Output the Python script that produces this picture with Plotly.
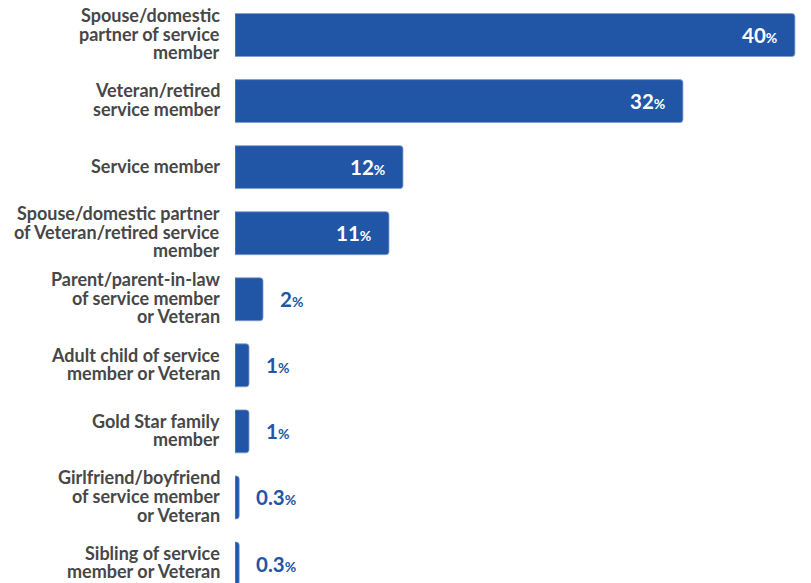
import plotly.graph_objects as go

# Respondent relationship to the military, share of respondents (%)
categories = [
    "Spouse/domestic<br>partner of service<br>member",
    "Veteran/retired<br>service member",
    "Service member",
    "Spouse/domestic partner<br>of Veteran/retired service<br>member",
    "Parent/parent-in-law<br>of service member<br>or Veteran",
    "Adult child of service<br>member or Veteran",
    "Gold Star family<br>member",
    "Girlfriend/boyfriend<br>of service member<br>or Veteran",
    "Sibling of service<br>member or Veteran",
]
values = [40, 32, 12, 11, 2, 1, 1, 0.3, 0.3]
value_labels = ["40", "32", "12", "11", "2", "1", "1", "0.3", "0.3"]

BAR_BLUE = "#2155a5"
LABEL_GREY = "#474747"
FONT = "Lato"
INSIDE_MIN = 10  # bars at least this long carry their label inside

fig = go.Figure(
    go.Bar(
        y=categories,
        x=values,
        orientation="h",
        marker=dict(color=BAR_BLUE, cornerradius=3,
                    line=dict(color="#7f9dd1", width=0.8)),
        width=0.65,
        hoverinfo="skip",
    )
)

annotations = []

# Category labels, one annotation per line for tight line spacing
line_gap = 18.6
for cat in categories:
    lines = cat.split("<br>")
    n = len(lines)
    for j, line in enumerate(lines):
        annotations.append(dict(
            xref="paper", x=0, xanchor="right", xshift=-14,
            yref="y", y=cat, yanchor="middle",
            yshift=((n - 1) / 2 - j) * line_gap + 1.5,
            text=line, showarrow=False, borderpad=0,
            font=dict(family=FONT, size=18, color=LABEL_GREY, weight=700),
        ))

# Value labels: number with a smaller percent sign
for cat, v, lab in zip(categories, values, value_labels):
    inside = v >= INSIDE_MIN
    annotations.append(dict(
        xref="x", x=v, yref="y", y=cat,
        xanchor="right" if inside else "left",
        xshift=-16 if inside else 15,
        yanchor="middle", yshift=0,
        text=f"{lab}<span style='font-size:14px'>%</span>",
        showarrow=False,
        font=dict(family=FONT, size=20.5,
                  color="white" if inside else BAR_BLUE, weight=700),
    ))

fig.update_layout(
    width=811, height=583,
    margin=dict(l=235, r=0, t=2, b=0, pad=0),
    plot_bgcolor="white", paper_bgcolor="white",
    showlegend=False,
    annotations=annotations,
    xaxis=dict(range=[0, 41.15], visible=False, fixedrange=True),
    yaxis=dict(type="category", categoryorder="array", categoryarray=categories,
               range=[8.295, -0.5], showticklabels=False, showgrid=False,
               zeroline=False, showline=False, ticks="", fixedrange=True),
)

fig.write_html("out.html")
